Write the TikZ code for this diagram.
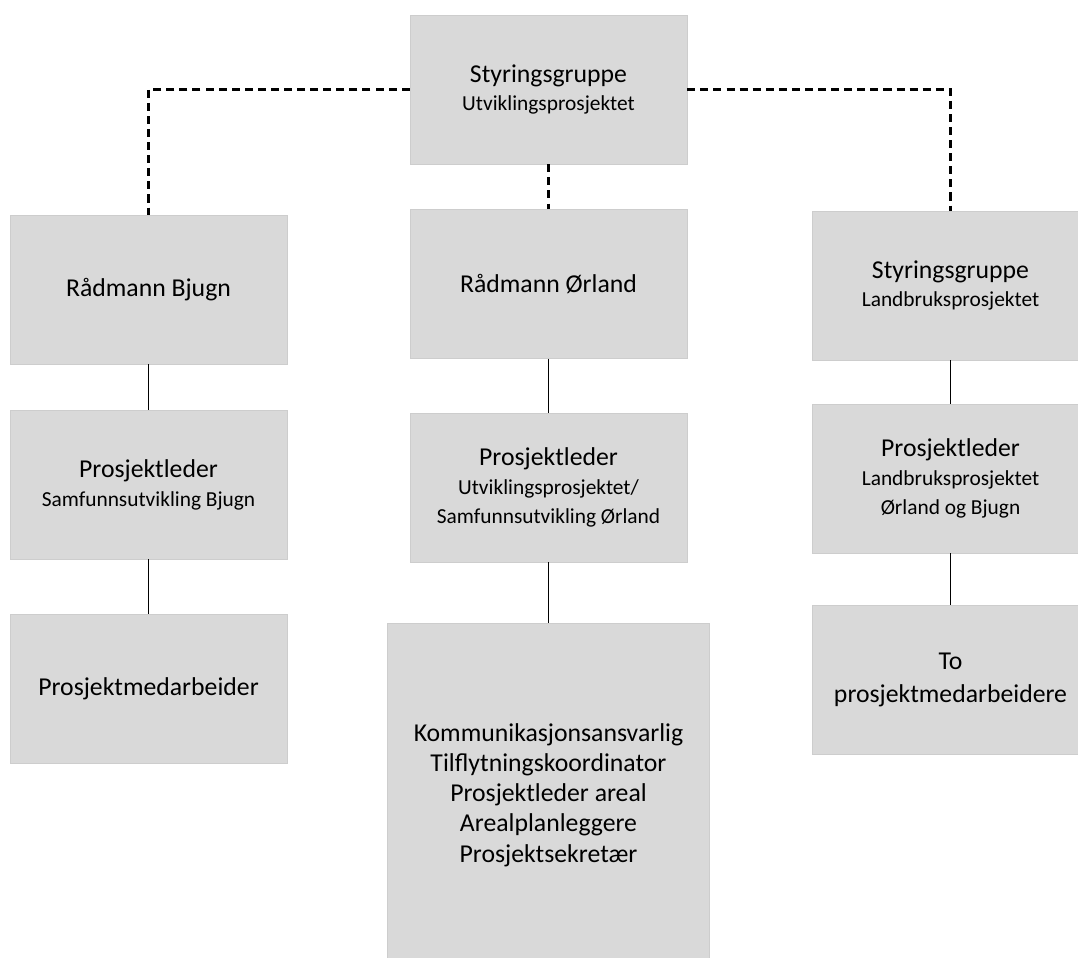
\documentclass[tikz,border=0pt]{standalone}
\usepackage{fontspec}
\setmainfont{Carlito}
\definecolor{boxfill}{RGB}{217,217,217}
\definecolor{boxline}{RGB}{205,205,205}
\newcommand{\hdtxt}{\fontsize{18.3}{21.5}\selectfont}
\newcommand{\subtxt}{\fontsize{15.2}{18.5}\selectfont}
\begin{document}
\begin{tikzpicture}[x=0.025cm,y=-0.025cm,
    unit/.style={fill=boxfill,draw=boxline,line width=0.4pt,inner sep=0pt,
      align=center,minimum width=6.925cm,minimum height=3.725cm,font=\hdtxt},
    dashlink/.style={dash pattern=on 5.7pt off 3.6pt,line width=2pt},
    link/.style={line width=1.4pt}]
    \useasboundingbox (0,0) rectangle (1078,958);
    \node[unit] (top) at (548.5,89.5) {Styringsgruppe\\[-1pt]{\subtxt Utviklingsprosjektet}};
    \node[unit] (rb) at (148.5,289.5) {Rådmann Bjugn};
    \node[unit] (ro) at (548.5,284) {Rådmann Ørland};
    \node[unit] (sl) at (950.5,285.5) {Styringsgruppe\\[-1pt]{\subtxt Landbruksprosjektet}};
    \node[unit] (pb) at (148.5,484.5) {Prosjektleder\\[-1pt]{\subtxt Samfunnsutvikling Bjugn}};
    \node[unit] (po) at (548.5,487.5) {Prosjektleder\\[-1pt]{\subtxt Utviklingsprosjektet/}\\[-1pt]{\subtxt Samfunnsutvikling Ørland}};
    \node[unit] (pl) at (950.5,478.5) {Prosjektleder\\[-1pt]{\subtxt Landbruksprosjektet}\\[-1pt]{\subtxt Ørland og Bjugn}};
    \node[unit] (mb) at (148.5,689) {Prosjektmedarbeider};
    \node[unit,minimum width=8.05cm,minimum height=8.6cm] (kom) at (548.5,795)
      {Kommunikasjonsansvarlig\\Tilflytningskoordinator\\Prosjektleder areal\\Arealplanleggere\\Prosjektsekretær};
    \node[unit] (to) at (950.5,679.5) {To\\[2pt]prosjektmedarbeidere};
    % steering lines
    \draw[dashlink] (top.west) -| (rb.north);
    \draw[dashlink] (top.east) -| (sl.north);
    \draw[dashlink] (top.south) -- (ro.north);
    % reporting lines
    \draw[link] (rb.south) -- (pb.north);
    \draw[link] (pb.south) -- (mb.north);
    \draw[link] (ro.south) -- (po.north);
    \draw[link] (po.south) -- (kom.north);
    \draw[link] (sl.south) -- (pl.north);
    \draw[link] (pl.south) -- (to.north);
  \end{tikzpicture}
\end{document}
